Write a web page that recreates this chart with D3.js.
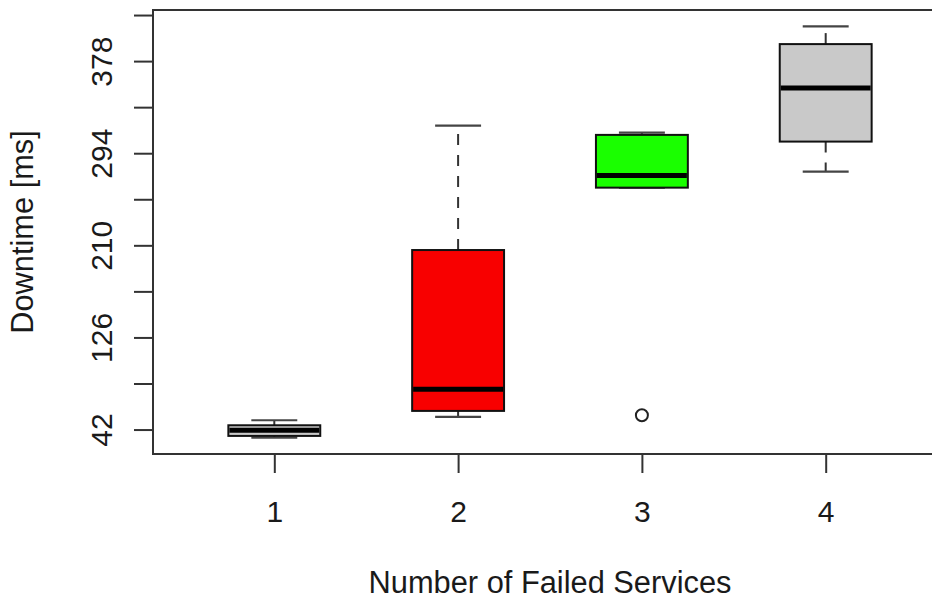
<!DOCTYPE html>
<html>
<head>
<meta charset="utf-8">
<script src="https://cdn.jsdelivr.net/npm/d3@7"></script>
<style>
  html, body { margin: 0; padding: 0; background: #fff; }
  svg { display: block; font-family: "Liberation Sans", Arial, Helvetica, sans-serif; }
</style>
</head>
<body>
<svg id="chart" width="932" height="600"></svg>
<script>
// Downtime per number of failed services: five-number summaries plus outliers
const categories = ["1", "2", "3", "4"];
const whiskerLow  = [34.7, 53.5, 262.6, 277.2];
const quart1      = [36.2, 59.0, 262.6, 304.6];
const medians     = [41.4, 78.8, 273.6, 353.4];
const quart3      = [45.9, 205.7, 310.7, 393.5];
const whiskerHigh = [50.5, 319.2, 312.8, 409.6];
const outliers    = [[], [], [55.1], []];
const fills       = ["#c9c9c9", "#f80000", "#1aff00", "#c9c9c9"];
const yTickValues = [42, 84, 126, 168, 210, 252, 294, 336, 378, 420];
const yTickLabels = ["42", "", "126", "", "210", "", "294", "", "378", ""];
const xTitle = "Number of Failed Services";
const yTitle = "Downtime [ms]";

const svg = d3.select("#chart");
const plot = { left: 153, top: 10, right: 947, bottom: 454 };
const labelSize = 30, titleSize = 30.8;

// axis ranges with 4% padding around the data extent
const allVals = whiskerLow.concat(whiskerHigh, outliers.flat());
const yMin = d3.min(allVals), yMax = d3.max(allVals);
const yPad = (yMax - yMin) * 0.04;
const y = d3.scaleLinear().domain([yMin - yPad, yMax + yPad]).range([plot.bottom, plot.top]);
const n = categories.length;
const xPad = n * 0.04;
const x = d3.scaleLinear().domain([0.5 - xPad, n + 0.5 + xPad]).range([plot.left, plot.right]);

const boxHalf = 0.25, stapleHalf = 0.125;

const boxes = categories.map((c, i) => ({
  c, i: i + 1, lo: whiskerLow[i], q1: quart1[i], med: medians[i],
  q3: quart3[i], hi: whiskerHigh[i], out: outliers[i], fill: fills[i]
}));

const g = svg.append("g");

// whiskers (dashed)
g.selectAll(".whisker-up").data(boxes).join("line")
  .attr("x1", d => x(d.i)).attr("x2", d => x(d.i))
  .attr("y1", d => y(d.q3)).attr("y2", d => y(d.hi))
  .attr("stroke", "#333").attr("stroke-width", 2).attr("stroke-dasharray", "11,10");
g.selectAll(".whisker-lo").data(boxes).join("line")
  .attr("x1", d => x(d.i)).attr("x2", d => x(d.i))
  .attr("y1", d => y(d.q1)).attr("y2", d => y(d.lo))
  .attr("stroke", "#333").attr("stroke-width", 2).attr("stroke-dasharray", "11,10");

// staples
["hi", "lo"].forEach(k => {
  g.selectAll(".staple-" + k).data(boxes).join("line")
    .attr("x1", d => x(d.i - stapleHalf)).attr("x2", d => x(d.i + stapleHalf))
    .attr("y1", d => y(d[k])).attr("y2", d => y(d[k]))
    .attr("stroke", "#444").attr("stroke-width", 2.2);
});

// boxes
g.selectAll(".box").data(boxes).join("rect")
  .attr("x", d => x(d.i - boxHalf))
  .attr("width", d => x(d.i + boxHalf) - x(d.i - boxHalf))
  .attr("y", d => y(d.q3))
  .attr("height", d => y(d.q1) - y(d.q3))
  .attr("fill", d => d.fill)
  .attr("stroke", "#111").attr("stroke-width", 2);

// medians
g.selectAll(".median").data(boxes).join("line")
  .attr("x1", d => x(d.i - boxHalf) + 1).attr("x2", d => x(d.i + boxHalf) - 1)
  .attr("y1", d => y(d.med)).attr("y2", d => y(d.med))
  .attr("stroke", "#000").attr("stroke-width", 5);

// outliers
g.selectAll(".outlier").data(boxes.flatMap(d => d.out.map(v => ({ i: d.i, v })))).join("circle")
  .attr("cx", d => x(d.i)).attr("cy", d => y(d.v)).attr("r", 6)
  .attr("fill", "none").attr("stroke", "#222").attr("stroke-width", 2);

// frame
svg.append("rect")
  .attr("x", plot.left).attr("y", plot.top)
  .attr("width", plot.right - plot.left).attr("height", plot.bottom - plot.top)
  .attr("fill", "none").attr("stroke", "#333").attr("stroke-width", 2);

// y axis
const yAxis = svg.append("g").attr("transform", `translate(${plot.left},0)`)
  .call(d3.axisLeft(y).tickValues(yTickValues)
    .tickFormat((d, i) => yTickLabels[i]).tickSize(19).tickSizeOuter(0));
yAxis.select(".domain").remove();
yAxis.selectAll(".tick line").attr("stroke", "#333").attr("stroke-width", 2);
yAxis.selectAll(".tick text")
  .attr("transform", "rotate(-90)")
  .attr("x", 0).attr("y", -41).attr("dy", 0)
  .attr("text-anchor", "middle")
  .attr("font-size", labelSize).attr("fill", "#1a1a1a");

// x axis
const xAxis = svg.append("g").attr("transform", `translate(0,${plot.bottom})`)
  .call(d3.axisBottom(x).tickValues(d3.range(1, n + 1))
    .tickFormat(d => categories[d - 1]).tickSize(19).tickSizeOuter(0));
xAxis.select(".domain").remove();
xAxis.selectAll(".tick line").attr("stroke", "#333").attr("stroke-width", 2);
xAxis.selectAll(".tick text")
  .attr("y", 68).attr("dy", 0)
  .attr("font-size", labelSize).attr("fill", "#1a1a1a");

// titles
svg.append("text")
  .attr("x", (plot.left + plot.right) / 2).attr("y", 593)
  .attr("text-anchor", "middle").attr("font-size", titleSize).attr("fill", "#1a1a1a")
  .text(xTitle);
svg.append("text")
  .attr("transform", `translate(33,${(plot.top + plot.bottom) / 2}) rotate(-90)`)
  .attr("text-anchor", "middle").attr("font-size", titleSize).attr("fill", "#1a1a1a")
  .text(yTitle);
</script>
</body>
</html>
